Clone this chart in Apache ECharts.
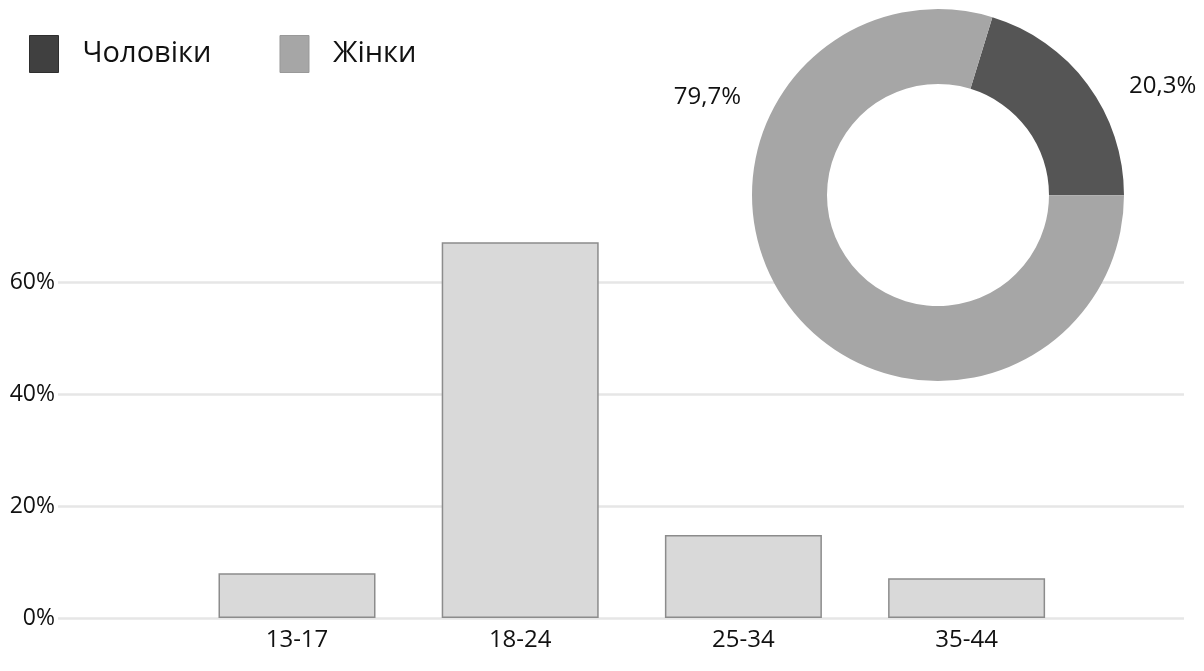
<!DOCTYPE html>
<html><head><meta charset="utf-8">
<script src="https://cdn.jsdelivr.net/npm/echarts@6/dist/echarts.min.js"></script>
<style>html,body{margin:0;padding:0;background:#fff}#c{width:1204px;height:671px}</style>
</head><body><div id="c"></div>
<script>
const ageCategories = ['13-17', '18-24', '25-34', '35-44'];
const ageShares = [8.0, 67.1, 14.8, 7.1];
const yTicks = [0, 20, 40, 60];
const genderNames = ['Чоловіки', 'Жінки'];
const genderShares = [20.3, 79.7];
const genderColors = ['#555555', '#a6a6a6'];
const legendColors = ['#404040', '#a6a6a6'];

const FONT = '"Open Sans", "Noto Sans", sans-serif';
const chart = echarts.init(document.getElementById('c'), null, {renderer: 'canvas'});
const fmtPct = v => v.toFixed(1).replace('.', ',') + '%';

chart.setOption({
  animation: false,
  backgroundColor: '#fff',
  legend: {
    left: 29, top: 35, padding: 0, itemWidth: 29, itemHeight: 37, itemGap: 68,
    icon: 'rect',
    textStyle: {fontFamily: FONT, fontSize: 29, color: '#111', padding: [9, 0, 0, 19]},
    data: genderNames.map((n, i) => ({name: n, itemStyle: {color: legendColors[i], borderColor: i === 0 ? '#2e2e2e' : '#999', borderWidth: 1}}))
  },
  grid: [
    {left: 58, right: 20, top: 282, bottom: 53, containLabel: false},
    {left: 185.4, right: 125.8, top: 282, bottom: 53, containLabel: false}
  ],
  xAxis: [
    {type: 'category', gridIndex: 0, data: ['a'], show: false},
    {type: 'category', gridIndex: 1, data: ageCategories,
     axisLine: {show: false}, axisTick: {show: false},
     axisLabel: {fontFamily: FONT, fontSize: 24, color: '#111', margin: 10}}
  ],
  yAxis: [
    {type: 'value', gridIndex: 0, min: yTicks[0], max: yTicks[yTicks.length - 1], interval: 20,
     axisLine: {show: false}, axisTick: {show: false},
     axisLabel: {fontFamily: FONT, fontSize: 23, color: '#111', margin: 3, formatter: v => v + '%'},
     splitLine: {lineStyle: {color: '#e6e6e6', width: 2.5}}},
    {type: 'value', gridIndex: 1, min: yTicks[0], max: yTicks[yTicks.length - 1], interval: 20, show: false,
     splitLine: {show: false}}
  ],
  series: [
    {type: 'bar', xAxisIndex: 1, yAxisIndex: 1, data: ageShares, barWidth: 157, clip: false,
     itemStyle: {color: '#d9d9d9', borderColor: '#8c8c8c', borderWidth: 1.5}, silent: true},
    {type: 'pie', center: [938, 195], radius: [0, 112], silent: true, z: 1,
     data: [{value: 1, name: '__bg'}], label: {show: false}, labelLine: {show: false},
     itemStyle: {color: '#ffffff'}, legendHoverLink: false},
    {type: 'pie', center: [938, 195], radius: [111, 186], startAngle: 73, clockwise: true, z: 3,
     data: genderNames.map((n, i) => ({name: n, value: genderShares[i], itemStyle: {color: genderColors[i]}})),
     label: {show: true, position: 'outside', fontFamily: FONT, fontSize: 24, color: '#111',
             overflow: 'none', width: 200, edgeDistance: 0, bleedMargin: 0,
             formatter: p => fmtPct(p.value)},
     labelLine: {show: false},
     labelLayout: p => p.dataIndex === 0
       ? {x: 1129, y: 86, align: 'left', verticalAlign: 'middle'}
       : {x: 741, y: 97, align: 'right', verticalAlign: 'middle'}}
  ]
});
</script></body></html>
